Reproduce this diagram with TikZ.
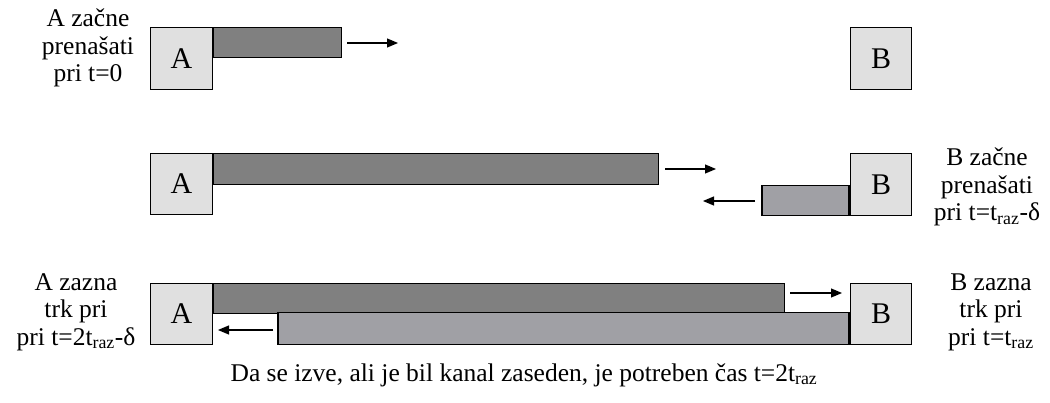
\documentclass[tikz,border=0pt]{standalone}
\usepackage{fontspec}
\setmainfont{Liberation Serif}
\usetikzlibrary{arrows.meta}
\begin{document}
\begin{tikzpicture}[x=1pt,y=-1pt,
  station/.style={draw=black,line width=1.2pt,fill=boxgray,minimum width=61.5pt,minimum height=61.5pt,inner sep=0pt,font=\fontsize{30}{34}\selectfont},
  frameA/.style={draw=black,line width=1.2pt,fill=frameAgray,inner sep=0pt},
  frameB/.style={draw=black,line width=1.2pt,fill=frameBgray,inner sep=0pt},
  flow/.style={line width=1.2pt,-{Triangle[length=11pt,width=9pt]}},
  note/.style={align=center,font=\fontsize{25.5}{27.5}\selectfont,inner sep=0pt}]
\definecolor{boxgray}{HTML}{E0E0E0}
\definecolor{frameAgray}{HTML}{808080}
\definecolor{frameBgray}{HTML}{A0A0A5}
\useasboundingbox (0,0) rectangle (1050,403);

% row 1: A starts sending
\node[station] (A1) at (181.5,58.5) {A};
\node[station] (B1) at (881,58.5) {B};
\node[frameA,minimum width=128pt,minimum height=30pt,anchor=north west] (fA1) at (A1.north east) {};
\coordinate (a1s) at (347,43);
\coordinate (a1e) at (398,43);
\draw[flow] (a1s) -- (a1e);
\node[note] (t1) at (88,48) {A začne\\prenašati\\pri t=0};

% row 2: B starts sending just before A's frame arrives
\node[station] (A2) at (181.5,184) {A};
\node[station] (B2) at (881,184.5) {B};
\node[frameA,minimum width=445pt,minimum height=31pt,anchor=north west] (fA2) at (A2.north east) {};
\node[frameB,minimum width=87pt,minimum height=30pt,anchor=south east] (fB2) at (B2.south west) {};
\coordinate (a2s) at (665,169);
\coordinate (a2e) at (716,169);
\draw[flow] (a2s) -- (a2e);
\coordinate (b2s) at (755,201);
\coordinate (b2e) at (703,201);
\draw[flow] (b2s) -- (b2e);
\node[note] (t2) at (987,187) {B začne\\prenašati\\pri t=t\textsubscript{raz}-δ};

% row 3: both stations detect the collision
\node[station] (A3) at (181.5,314) {A};
\node[station] (B3) at (881,314) {B};
\node[frameA,minimum width=571pt,minimum height=30pt,anchor=north west] (fA3) at (A3.north east) {};
\node[frameB,minimum width=571pt,minimum height=32pt,anchor=south east] (fB3) at (B3.south west) {};
\coordinate (a3s) at (790,293);
\coordinate (a3e) at (842,293);
\draw[flow] (a3s) -- (a3e);
\coordinate (b3s) at (273,330);
\coordinate (b3e) at (218,330);
\draw[flow] (b3s) -- (b3e);
\node[note] (t3) at (76,312) {A zazna\\trk pri\\pri t=2t\textsubscript{raz}-δ};
\node[note] (t4) at (991,312) {B zazna\\trk pri\\pri t=t\textsubscript{raz}};

\node[note] (cap) at (524,375) {Da se izve, ali je bil kanal zaseden, je potreben čas t=2t\textsubscript{raz}};
\end{tikzpicture}
\end{document}
